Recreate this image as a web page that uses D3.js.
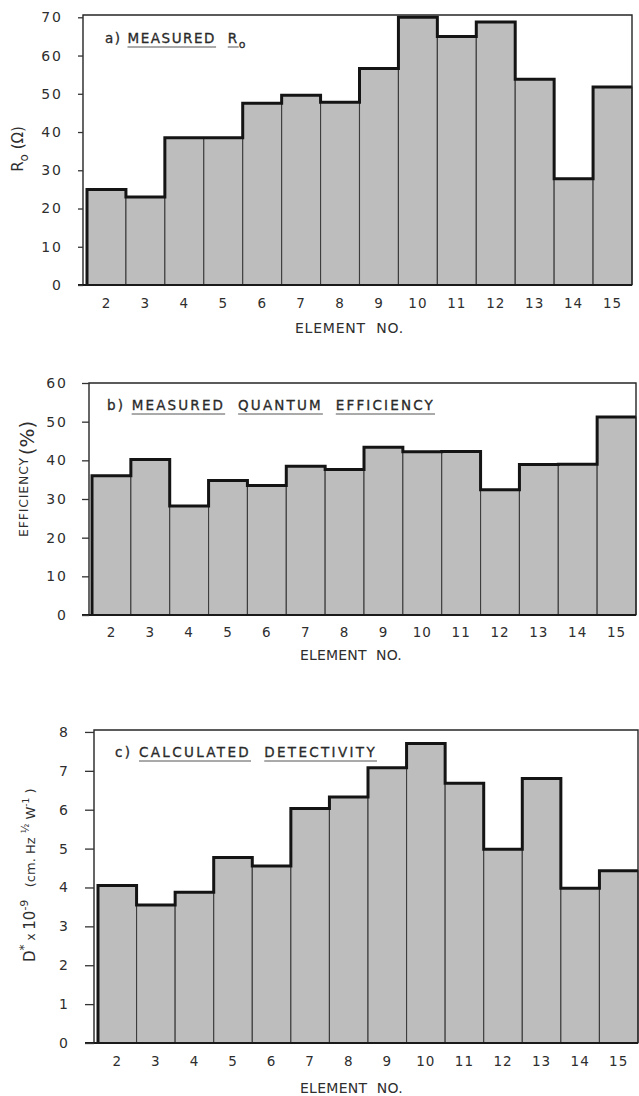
<!DOCTYPE html>
<html>
<head>
<meta charset="utf-8">
<script src="https://cdn.jsdelivr.net/npm/d3@7"></script>
<style>
  body { margin: 0; background: #fff; }
  svg { display: block; }
  text { font-family: "DejaVu Sans", sans-serif; fill: #2e2e2e; }
  .pre { white-space: pre; }
</style>
</head>
<body>
<svg id="chart" width="639" height="1096"></svg>
<script>
// Element numbers along the detector array
const elements = ["2", "3", "4", "5", "6", "7", "8", "9", "10", "11", "12", "13", "14", "15"];

// a) measured R0 (ohms)
const measuredRo = [25, 23, 38.5, 38.5, 47.5, 49.6, 47.8, 56.6, 70, 65, 68.8, 53.8, 27.8, 51.8];
// b) measured quantum efficiency (%)
const quantumEfficiency = [36, 40.2, 28.2, 34.8, 33.5, 38.5, 37.6, 43.4, 42.2, 42.3, 32.4, 38.9, 39.0, 51.2];
// c) calculated detectivity D* x 10^-9 (cm Hz^1/2 W^-1)
const detectivity = [4.05, 3.55, 3.88, 4.77, 4.55, 6.03, 6.33, 7.08, 7.7, 6.68, 4.98, 6.8, 3.98, 4.43];

// y-axis tick values
const roTicks = [0, 10, 20, 30, 40, 50, 60, 70];
const efficiencyTicks = [0, 10, 20, 30, 40, 50, 60];
const detectivityTicks = [0, 1, 2, 3, 4, 5, 6, 7, 8];

const svg = d3.select("#chart");
const FILL = "#bdbdbd";

// spread a text element's letters so it spans a given width
function fitWidth(sel, target) {
  const node = sel.node();
  const n = node.textContent.length;
  const w = node.getComputedTextLength();
  sel.style("letter-spacing", ((target - w) / n) + "px");
}

function drawPanel(cfg) {
  const g = svg.append("g");
  const x = d3.scaleBand().domain(elements).range([cfg.x0, cfg.x1]).padding(0);
  const y = d3.scaleLinear().domain([0, cfg.yMax]).range([cfg.base, cfg.top]);

  // bars
  g.selectAll("rect.bar")
    .data(cfg.values)
    .join("rect")
    .attr("class", "bar")
    .attr("x", (d, i) => x(elements[i]))
    .attr("y", d => y(d))
    .attr("width", x.bandwidth())
    .attr("height", d => y(0) - y(d))
    .attr("fill", FILL)
    .attr("stroke", "#3c3c3c")
    .attr("stroke-width", 1.1);

  // heavy stepped outline over the bar tops
  const pts = [[x(elements[0]), y(0)]]
    .concat(cfg.values.map((v, i) => [x(elements[i]), y(v)]))
    .concat([[cfg.x1, y(cfg.values[cfg.values.length - 1])]]);
  g.append("path")
    .attr("d", d3.line().curve(d3.curveStepAfter)(pts))
    .attr("fill", "none")
    .attr("stroke", "#141414")
    .attr("stroke-width", 3)
    .attr("stroke-linejoin", "miter");

  // frame: left axis, top, right
  g.append("path")
    .attr("d", `M${cfg.axisX},${y(0)}V${cfg.top}H${cfg.frameRight}V${y(0)}`)
    .attr("fill", "none")
    .attr("stroke", "#262626")
    .attr("stroke-width", 1.4);
  // baseline
  g.append("line")
    .attr("x1", cfg.axisX - cfg.tickLen).attr("x2", cfg.frameRight)
    .attr("y1", y(0)).attr("y2", y(0))
    .attr("stroke", "#1a1a1a")
    .attr("stroke-width", 2.2);

  // y axis ticks and labels
  const ya = g.append("g")
    .attr("transform", `translate(${cfg.axisX},0)`)
    .call(d3.axisLeft(y).tickValues(cfg.ticks).tickSize(cfg.tickLen)
      .tickPadding(cfg.tickPad).tickFormat(d3.format("d")));
  ya.select(".domain").remove();
  ya.selectAll(".tick line").attr("stroke", "#333").attr("stroke-width", 1.3);
  ya.selectAll(".tick text")
    .attr("fill", "#333")
    .style("font-size", "14px")
    .style("letter-spacing", "2px");

  // x axis labels
  const xa = g.append("g")
    .attr("transform", `translate(0,${y(0)})`)
    .call(d3.axisBottom(x).tickSize(0));
  xa.select(".domain").remove();
  xa.selectAll(".tick text")
    .attr("y", cfg.xLabelDy)
    .attr("dy", 0)
    .attr("fill", "#333")
    .style("font-size", "13.5px")
    .style("letter-spacing", "1px");

  // x axis title
  const xt = g.append("text")
    .attr("class", "pre")
    .attr("x", cfg.xTitle[0]).attr("y", cfg.xTitle[1])
    .style("font-size", "14px")
    .attr("fill", "#333")
    .text("ELEMENT  NO.");
  fitWidth(xt, cfg.xTitle[2]);

  // panel title, with thin underlines under the marked words
  const tt = g.append("text")
    .attr("class", "pre")
    .attr("x", cfg.titleX).attr("y", cfg.titleY)
    .style("font-size", "13.5px")
    .attr("fill", "#1e1e1e")
    .attr("stroke", "#1e1e1e")
    .attr("stroke-width", 0.3);
  const spans = [];
  let pos = 0;
  cfg.title.forEach(seg => {
    const ts = tt.append("tspan").text(seg.t);
    if (seg.sub) ts.attr("dy", 5).style("font-size", "11px");
    if (seg.u) spans.push([pos, pos + seg.t.length - 1]);
    pos += seg.t.length;
  });
  fitWidth(tt, cfg.titleW);
  const tn = tt.node();
  const nChars = tn.getNumberOfChars();
  spans.forEach(([a, b]) => {
    if (b >= nChars) return;
    g.append("line")
      .attr("x1", tn.getStartPositionOfChar(a).x)
      .attr("x2", tn.getEndPositionOfChar(b).x)
      .attr("y1", cfg.titleY + 4).attr("y2", cfg.titleY + 4)
      .attr("stroke", "#555")
      .attr("stroke-width", 1);
  });

  return g;
}

// ---- a) measured R0
drawPanel({
  values: measuredRo, ticks: roTicks, yMax: 70.6,
  axisX: 83, x0: 87, x1: 632, frameRight: 632, top: 15, base: 285,
  tickLen: 5, tickPad: 15, xLabelDy: 23,
  xTitle: [295, 333, 109],
  title: [{ t: "a) " }, { t: "MEASURED", u: true }, { t: "  " }, { t: "R", u: true }, { t: "o", sub: true }],
  titleX: 105, titleY: 43, titleW: 142
});
svg.append("text")
  .attr("transform", "translate(23,149) rotate(-90)")
  .attr("text-anchor", "middle")
  .style("font-size", "15px")
  .attr("fill", "#333")
  .call(t => {
    t.append("tspan").text("R");
    t.append("tspan").attr("dy", 5).style("font-size", "12px").text("o");
    t.append("tspan").attr("dy", -5).text(" (Ω)");
  });

// ---- b) measured quantum efficiency
drawPanel({
  values: quantumEfficiency, ticks: efficiencyTicks, yMax: 60,
  axisX: 89, x0: 92, x1: 636, frameRight: 636, top: 383, base: 615,
  tickLen: 7, tickPad: 14, xLabelDy: 22,
  xTitle: [300, 660, 102],
  title: [{ t: "b) " }, { t: "MEASURED", u: true }, { t: "  " }, { t: "QUANTUM", u: true }, { t: "  " }, { t: "EFFICIENCY", u: true }],
  titleX: 107, titleY: 410, titleW: 328
});
const effLabel = svg.append("text")
  .attr("transform", "translate(28,537) rotate(-90)")
  .style("font-size", "12.5px")
  .attr("fill", "#333")
  .text("EFFICIENCY");
fitWidth(effLabel, 80);
svg.append("text")
  .attr("transform", "translate(34,438) rotate(-90)")
  .attr("text-anchor", "middle")
  .style("font-size", "20px")
  .attr("fill", "#333")
  .text("(%)");

// ---- c) calculated detectivity
drawPanel({
  values: detectivity, ticks: detectivityTicks, yMax: 8.05,
  axisX: 94, x0: 98, x1: 638, frameRight: 638, top: 730, base: 1043,
  tickLen: 9, tickPad: 15, xLabelDy: 23,
  xTitle: [300, 1093, 103],
  title: [{ t: "c) " }, { t: "CALCULATED", u: true }, { t: "  " }, { t: "DETECTIVITY", u: true }],
  titleX: 115, titleY: 757, titleW: 262
});
svg.append("text")
  .attr("class", "pre")
  .attr("transform", "translate(35,962) rotate(-90)")
  .style("font-size", "15px")
  .attr("fill", "#333")
  .call(t => {
    t.append("tspan").text("D");
    t.append("tspan").attr("dy", -7).style("font-size", "12px").text("*");
    t.append("tspan").attr("dy", 7).style("font-size", "12px").text(" x ");
    t.append("tspan").text("10");
    t.append("tspan").attr("dy", -7).style("font-size", "11px").text("-9");
    t.append("tspan").attr("dy", 7).style("font-size", "13px").text("   (cm. Hz ");
    t.append("tspan").attr("dy", -6).style("font-size", "10px").text("½");
    t.append("tspan").attr("dy", 6).style("font-size", "13px").text(" W");
    t.append("tspan").attr("dy", -6).style("font-size", "9px").text("-1");
    t.append("tspan").attr("dy", 6).style("font-size", "13px").text(" )");
  });
</script>
</body>
</html>
